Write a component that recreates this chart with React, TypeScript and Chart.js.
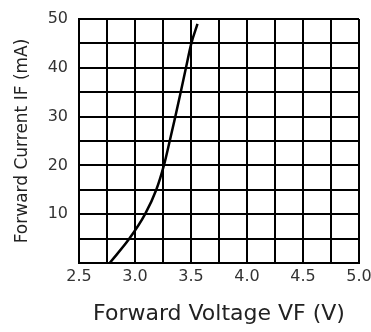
import React, { useEffect, useRef } from "react";
import { Chart, registerables } from "chart.js";

Chart.register(...registerables);

const voltage = [2.774, 2.95, 3.09, 3.19, 3.258, 3.31, 3.36, 3.408, 3.455, 3.503, 3.558];
const current = [0, 5, 10, 15, 20, 25, 30, 35, 40, 45, 49];
const xTitle = "Forward Voltage VF (V)";
const yTitle = "Forward Current IF (mA)";

export default function App() {
  const ref = useRef<HTMLCanvasElement>(null);
  useEffect(() => {
    const ctx = ref.current!;
    const data = voltage.map((v, i) => ({ x: v, y: current[i] }));
    const chart = new Chart(ctx, {
      type: "scatter",
      data: {
        datasets: [
          {
            data,
            showLine: true,
            borderColor: "#000",
            borderWidth: 2.5,
            pointRadius: 0,
            cubicInterpolationMode: "monotone",
          },
        ],
      },
      options: {
        animation: false,
        responsive: false,
        maintainAspectRatio: false,
        layout: { padding: { left: 0, right: 12, top: 19, bottom: 0 } },
        plugins: { legend: { display: false }, tooltip: { enabled: false } },
        scales: {
          x: {
            type: "linear",
            min: 2.5,
            max: 5,
            afterFit: (s: any) => {
              s.height = 69;
              s.paddingRight = 0;
              s.paddingLeft = 0;
            },
            border: { color: "#000", width: 2 },
            grid: { color: "#000", lineWidth: 2, drawTicks: false },
            ticks: {
              stepSize: 0.25,
              autoSkip: false,
              maxRotation: 0,
              padding: 4,
              color: "#333",
              font: { family: "DejaVu Sans", size: 16 },
              callback: (v: any) => {
                const n = Number(v);
                return Math.abs(n * 2 - Math.round(n * 2)) < 1e-6 ? n.toFixed(1) : "";
              },
            },
            title: {
              display: true,
              text: xTitle,
              color: "#222",
              font: { family: "DejaVu Sans", size: 22 },
              padding: { top: 0, bottom: 5 },
            },
          },
          y: {
            type: "linear",
            min: 0,
            max: 50,
            afterFit: (s: any) => {
              s.width = 79;
              s.paddingTop = 0;
              s.paddingBottom = 0;
            },
            border: { color: "#000", width: 2 },
            grid: { color: "#000", lineWidth: 2, drawTicks: false },
            ticks: {
              stepSize: 5,
              autoSkip: false,
              padding: 11,
              color: "#333",
              font: { family: "DejaVu Sans", size: 16 },
              callback: (v: any) => {
                const n = Number(v);
                return n > 0 && n % 10 === 0 ? String(n) : "";
              },
            },
            title: {
              display: true,
              text: yTitle,
              color: "#222",
              font: { family: "DejaVu Sans", size: 17 },
              padding: { top: 12, bottom: 0 },
            },
          },
        },
      },
    });
    return () => chart.destroy();
  }, []);
  return (
    <div style={{ position: "fixed", left: 0, top: 0, width: 371, height: 332, background: "#fff" }}>
      <canvas ref={ref} width={371} height={332} style={{ width: 371, height: 332 }} />
    </div>
  );
}
